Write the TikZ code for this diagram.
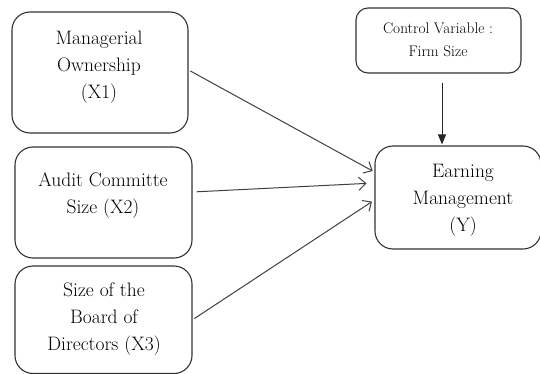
\documentclass[tikz,border=0pt]{standalone}
\usetikzlibrary{arrows.meta,positioning}

\begin{document}
\begin{tikzpicture}[x=1pt,y=-1pt,
   varbox/.style={draw=black!80,line width=1.1pt,rounded corners=18pt,inner sep=0pt},
   vartext/.style={align=center,inner sep=0pt,font=\fontsize{19.5}{27}\selectfont,text=black},
   link/.style={draw=black!75,line width=1pt,-{Straight Barb[length=7pt,width=13pt]}},
   ]
   \useasboundingbox (0,0) rectangle (540,374);
   % independent variables
   \node[varbox,minimum width=176pt,minimum height=121pt] (x1) at (100,72.5) {};
   \node[vartext] (x1t) at (99,67) {Managerial\\Ownership\\(X1)};
   \node[varbox,minimum width=177pt,minimum height=111pt] (x2) at (103.5,202.5) {};
   \node[vartext] (x2t) at (103,195.5) {Audit Committe\\Size (X2)};
   \node[varbox,minimum width=177pt,minimum height=107.5pt] (x3) at (103.5,319.75) {};
   \node[vartext] (x3t) at (104,319) {Size of the\\Board of\\Directors (X3)};
   % control and dependent
   \node[varbox,rounded corners=12pt,minimum width=165pt,minimum height=65pt] (ctrl) at (438.5,40.5) {};
   \node[vartext,font=\fontsize{15.3}{23}\selectfont] (ctrlt) at (438,40) {Control Variable :\\Firm Size};
   \node[varbox,minimum width=166pt,minimum height=103pt] (em) at (458,197.5) {};
   \node[vartext] (emt) at (463,200) {Earning\\Management\\(Y)};
   % arrows
   \draw[link,shorten <=2pt,shorten >=2pt] ([yshift=2.5pt]x1.east) -- ([yshift=25.5pt]em.west);
   \draw[link,shorten <=4pt,shorten >=8pt] ([yshift=10.5pt]x2.east) -- ([yshift=14.5pt]em.west);
   \draw[link,shorten <=2pt,shorten >=3pt] (x3.east) -- ([yshift=-2.5pt]em.west);
   \draw[draw=black!85,line width=1pt,-{Triangle[length=10pt,width=8pt]},shorten <=9pt,shorten >=1pt]
      ([xshift=3.5pt]ctrl.south) -- ([xshift=3.5pt]ctrl.south |- em.north);
\end{tikzpicture}
\end{document}
